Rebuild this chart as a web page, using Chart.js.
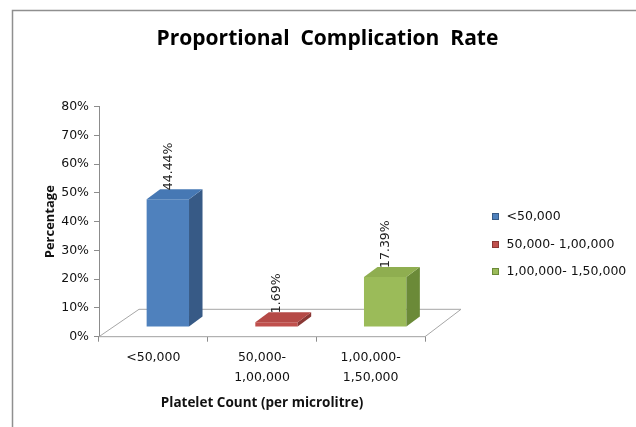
<!DOCTYPE html>
<html><head><meta charset="utf-8">
<script src="https://cdn.jsdelivr.net/npm/chart.js@4.4.1/dist/chart.umd.min.js"></script>
<style>html,body{margin:0;padding:0;background:#fff;overflow:hidden}canvas{display:block}</style>
</head><body>
<canvas id="c" width="636" height="427"></canvas>
<script>
// ---- data ----
const categories = [['<50,000'], ['50,000-', '1,00,000'], ['1,00,000-', '1,50,000']];
const legendLabels = ['<50,000', '50,000- 1,00,000', '1,00,000- 1,50,000'];
const values = [44.44, 1.69, 17.39];
const valueLabels = ['44.44%', '1.69%', '17.39%'];
const yTickValues = [0, 10, 20, 30, 40, 50, 60, 70, 80];
const titleText = 'Proportional  Complication  Rate';
const xTitle = 'Platelet Count (per microlitre)';
const yTitle = 'Percentage';

// ---- styles ----
const frontColors = ['#4f81bd', '#c0504d', '#9bbb59'];
const sideColors = ['#375a86', '#8a3835', '#6b8a38'];
const topColors = ['#4678b4', '#b54a47', '#8fae50'];
const TXT = '"DejaVu Sans", Verdana, sans-serif';
const BOLD = '"Open Sans", Lato, sans-serif';
const BAR_OFF = {x: 14.5, y: -9.7};   // bars sit inside the 3D floor
const DEPTH = {x: 13.5, y: -10};      // bar depth
const FLOOR = {lx: 40, rx: 36, y: -27.4};

const threeD = {
  id: 'threeD',
  beforeDraw(chart) {
    const ctx = chart.ctx;
    ctx.save();
    ctx.strokeStyle = '#8f8f8f';
    ctx.lineWidth = 1.5;
    ctx.beginPath();
    ctx.moveTo(12.5, 427); ctx.lineTo(12.5, 10.5); ctx.lineTo(636, 10.5);
    ctx.stroke();
    // title
    ctx.fillStyle = '#000';
    ctx.font = 'bold 21px ' + BOLD;
    ctx.textAlign = 'center';
    ctx.textBaseline = 'alphabetic';
    ctx.fillText(titleText, 327.5, 45);
    // legend
    ctx.font = '12.5px ' + TXT;
    ctx.textAlign = 'left';
    ctx.textBaseline = 'middle';
    const ly = [216.5, 244.5, 271.5];
    legendLabels.forEach((t, i) => {
      ctx.fillStyle = frontColors[i];
      ctx.fillRect(492, ly[i] - 3.5, 7, 7);
      ctx.strokeStyle = sideColors[i];
      ctx.lineWidth = 1;
      ctx.strokeRect(492.5, ly[i] - 3, 6, 6);
      ctx.fillStyle = '#111';
      ctx.fillText(t, 506.5, ly[i] + 0.5);
    });
    ctx.restore();
  },
  beforeDatasetsDraw(chart) {
    const ctx = chart.ctx;
    const xs = chart.scales.x, ys = chart.scales.y;
    const y0 = ys.getPixelForValue(0);
    ctx.save();
    ctx.beginPath();
    ctx.moveTo(xs.left, y0);
    ctx.lineTo(xs.right, y0);
    ctx.lineTo(xs.right + FLOOR.rx, y0 + FLOOR.y);
    ctx.lineTo(xs.left + FLOOR.lx, y0 + FLOOR.y);
    ctx.closePath();
    ctx.fillStyle = '#fff';
    ctx.fill();
    ctx.strokeStyle = '#a6a6a6';
    ctx.lineWidth = 1;
    ctx.stroke();
    ctx.restore();
    ctx.save();
    ctx.translate(BAR_OFF.x, BAR_OFF.y);
  },
  afterDatasetsDraw(chart) {
    const ctx = chart.ctx;
    ctx.restore();
    const meta = chart.getDatasetMeta(0);
    meta.data.forEach((bar, i) => {
      const p = bar.getProps(['x', 'y', 'base', 'width'], true);
      const xl = p.x - p.width / 2 + BAR_OFF.x;
      const xr = p.x + p.width / 2 + BAR_OFF.x;
      const yt = p.y + BAR_OFF.y;
      const yb = p.base + BAR_OFF.y;
      // side
      ctx.beginPath();
      ctx.moveTo(xr, yt); ctx.lineTo(xr + DEPTH.x, yt + DEPTH.y);
      ctx.lineTo(xr + DEPTH.x, yb + DEPTH.y); ctx.lineTo(xr, yb);
      ctx.closePath();
      ctx.fillStyle = sideColors[i];
      ctx.fill();
      // top
      ctx.beginPath();
      ctx.moveTo(xl, yt); ctx.lineTo(xr, yt);
      ctx.lineTo(xr + DEPTH.x, yt + DEPTH.y); ctx.lineTo(xl + DEPTH.x, yt + DEPTH.y);
      ctx.closePath();
      ctx.fillStyle = topColors[i];
      ctx.fill();
      // value label
      ctx.save();
      ctx.translate(p.x + BAR_OFF.x + 0.5, yt + DEPTH.y + 1);
      ctx.rotate(-Math.PI / 2);
      ctx.font = '12.5px ' + TXT;
      ctx.fillStyle = '#222';
      ctx.textAlign = 'left';
      ctx.textBaseline = 'middle';
      ctx.fillText(valueLabels[i], 0, 0);
      ctx.restore();
    });
  }
};

new Chart(document.getElementById('c'), {
  type: 'bar',
  data: {
    labels: categories,
    datasets: [{
      data: values,
      backgroundColor: frontColors,
      borderWidth: 0,
      barPercentage: 0.39,
      categoryPercentage: 1
    }]
  },
  options: {
    responsive: false,
    animation: false,
    layout: {padding: {left: 0, top: 106.7, right: 211, bottom: 0}},
    plugins: {legend: {display: false}, title: {display: false}, tooltip: {enabled: false}},
    scales: {
      x: {
        afterFit(s) { s.height = 90.3; },
        grid: {display: true, drawOnChartArea: false, tickLength: 5, color: '#8c8c8c', offset: true},
        border: {display: true, color: '#8c8c8c'},
        ticks: {color: '#111', padding: 6, font: {family: TXT, size: 12.5, lineHeight: 1.6}, maxRotation: 0},
        title: {display: true, text: xTitle, color: '#111', font: {family: BOLD, size: 13.5, weight: 'bold', lineHeight: 1.2}, padding: {top: 0, bottom: 16}}
      },
      y: {
        min: 0, max: 80,
        afterFit(s) { s.width = 99; },
        afterBuildTicks(s) { s.ticks = yTickValues.map(v => ({value: v})); },
        grid: {display: true, drawOnChartArea: false, tickLength: 5, color: '#8c8c8c'},
        border: {display: true, color: '#8c8c8c'},
        ticks: {color: '#111', padding: 5, font: {family: TXT, size: 12.5}, callback: v => v + '%'},
        title: {display: true, text: yTitle, color: '#111', font: {family: BOLD, size: 13, weight: 'bold', lineHeight: 1.2}, padding: {top: 42, bottom: 0}}
      }
    }
  },
  plugins: [threeD]
});
</script>
</body></html>
